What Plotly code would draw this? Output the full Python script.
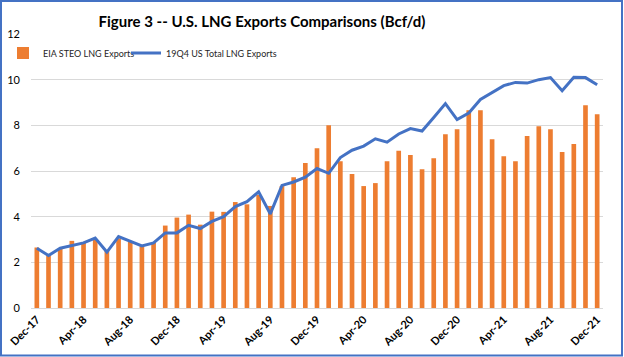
import plotly.graph_objects as go

months = ["Dec-17","Jan-18","Feb-18","Mar-18","Apr-18","May-18","Jun-18","Jul-18","Aug-18","Sep-18","Oct-18","Nov-18",
          "Dec-18","Jan-19","Feb-19","Mar-19","Apr-19","May-19","Jun-19","Jul-19","Aug-19","Sep-19","Oct-19","Nov-19",
          "Dec-19","Jan-20","Feb-20","Mar-20","Apr-20","May-20","Jun-20","Jul-20","Aug-20","Sep-20","Oct-20","Nov-20",
          "Dec-20","Jan-21","Feb-21","Mar-21","Apr-21","May-21","Jun-21","Jul-21","Aug-21","Sep-21","Oct-21","Nov-21","Dec-21"]

steo_exports = [2.65, 2.33, 2.62, 2.94, 2.87, 3.0, 2.5, 3.05, 2.9, 2.7, 2.87, 3.61,
                3.96, 4.09, 3.65, 4.22, 4.21, 4.64, 4.54, 4.95, 4.47, 5.34, 5.73, 6.35,
                7.0, 8.0, 6.43, 5.87, 5.34, 5.47, 6.43, 6.89, 6.70, 6.08, 6.56, 7.61,
                7.83, 8.66, 8.66, 7.39, 6.65, 6.43, 7.53, 7.96, 7.83, 6.83, 7.18, 8.88, 8.49]

q4_total_exports = [2.62, 2.30, 2.62, 2.72, 2.85, 3.06, 2.45, 3.13, 2.91, 2.72, 2.85, 3.29,
                    3.29, 3.62, 3.48, 3.79, 4.0, 4.44, 4.66, 5.09, 4.12, 5.37, 5.52, 5.73,
                    6.11, 5.90, 6.59, 6.91, 7.09, 7.41, 7.26, 7.62, 7.86, 7.75, 8.34, 8.95,
                    8.25, 8.54, 9.13, 9.45, 9.74, 9.88, 9.85, 10.0, 10.09, 9.52, 10.1, 10.09, 9.78]

tick_labels = months[::4]

W, H = 624, 357
ML, MR, MT, MB = 31, 21, 34, 49
FONT = "Lato, Open Sans, sans-serif"

fig = go.Figure()
fig.add_trace(go.Bar(x=months, y=steo_exports, name="EIA STEO LNG Exports",
                     marker=dict(color="#ED7D31", line=dict(width=0))))
fig.add_trace(go.Scatter(x=months, y=q4_total_exports, name="19Q4 US Total LNG Exports",
                         mode="lines", line=dict(color="#4472C4", width=3)))
# spacer legend entry (invisible) so the second legend label is not clipped
fig.add_trace(go.Scatter(x=[months[0]], y=[0], name=" ", mode="lines",
                         line=dict(color="rgba(0,0,0,0)", width=0), hoverinfo="skip"))

pw = W - ML - MR
ph = H - MT - MB
fig.add_shape(type="rect", xref="paper", yref="paper",
              x0=(-ML + 1) / pw, x1=1 + (MR - 2) / pw,
              y0=(-MB + 1.5) / ph, y1=1 + (MT - 1) / ph,
              line=dict(color="#4472C4", width=2), fillcolor="rgba(0,0,0,0)", layer="below")

fig.update_layout(
    width=W, height=H,
    margin=dict(l=ML, r=MR, t=MT, b=MB, autoexpand=False),
    paper_bgcolor="white", plot_bgcolor="white",
    font=dict(family=FONT, color="#000000", size=11),
    title=dict(text="<b>Figure 3 -- U.S. LNG Exports Comparisons (Bcf/d)</b>",
               x=262 / W, xanchor="center", xref="container",
               y=1 - 22 / H, yanchor="middle", yref="container", automargin=False,
               font=dict(family=FONT, size=15, color="#000000")),
    bargap=0.6,
    showlegend=True,
    legend=dict(orientation="h", xref="container", yref="container",
                x=3 / W, y=1 - 53 / H, xanchor="left", yanchor="middle",
                bgcolor="rgba(0,0,0,0)", font=dict(family=FONT, size=9, color="#262626"),
                traceorder="normal", itemwidth=30, entrywidth=78, entrywidthmode="pixels"),
    xaxis=dict(type="category", tickmode="array", tickvals=tick_labels,
               ticktext=["<b>%s</b>" % t for t in tick_labels], automargin=False,
               tickangle=-45, showgrid=False, showline=True, linecolor="#d9d9d9", linewidth=1,
               ticks="", tickfont=dict(family=FONT, size=11, color="#000000")),
    yaxis=dict(range=[0, 12], dtick=2, showgrid=True, gridcolor="#d9d9d9", gridwidth=1,
               zeroline=False, showline=False, ticks="", ticklabelstandoff=10, automargin=False,
               tickfont=dict(family=FONT, size=11, color="#000000")),
)

fig.write_html("out.html", config={"displayModeBar": False},
               post_script="document.body.style.margin='0';document.body.style.padding='0';")
